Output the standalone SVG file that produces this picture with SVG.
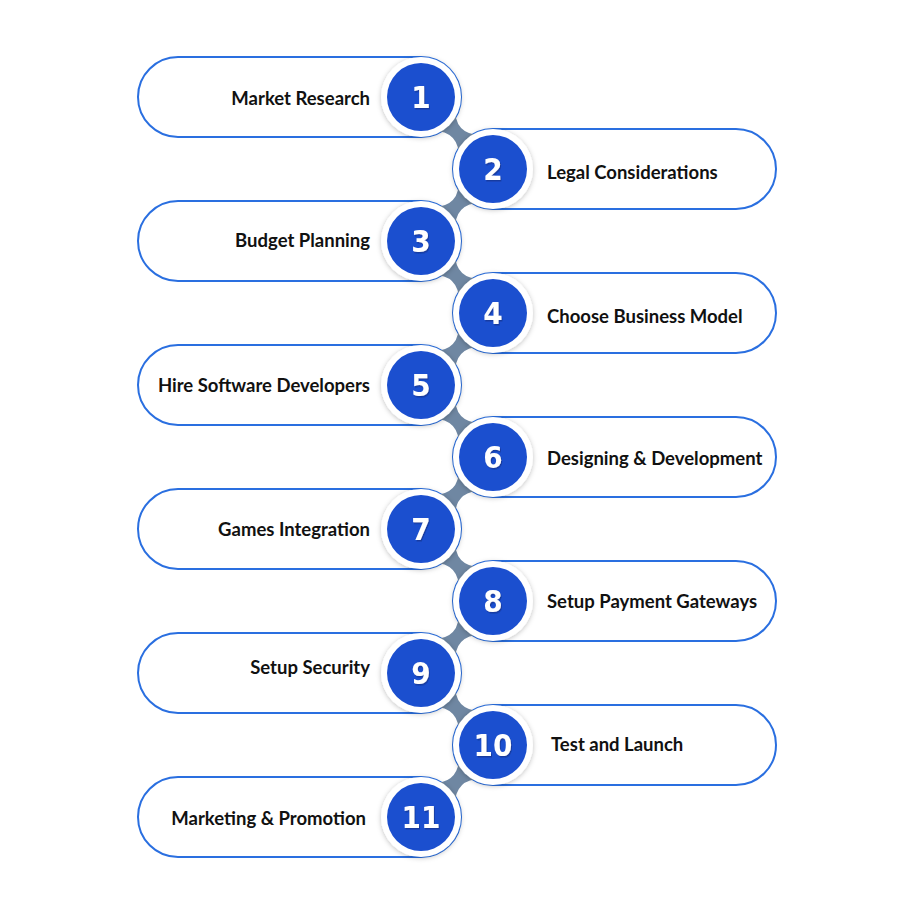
<svg xmlns="http://www.w3.org/2000/svg" width="914" height="921" viewBox="0 0 914 921">
<style>
.pill{fill:#fff;stroke:#2a6fe0;stroke-width:2}
.ring{fill:#fff}
.dot{fill:#1b4fcf}
.num{font-family:"DejaVu Sans Condensed","DejaVu Sans",sans-serif;font-stretch:condensed;font-weight:bold;font-size:31px;fill:#fff;text-anchor:middle}
.lbl{font-family:Lato,"Liberation Sans",sans-serif;font-weight:bold;font-size:18.5px;fill:#111}
.l{text-anchor:end}
.r{text-anchor:start}
.con{fill:#6f87a2}
</style>
<defs>
<filter id="sh" x="-30%" y="-30%" width="160%" height="160%">
<feDropShadow dx="0" dy="1" stdDeviation="2.5" flood-color="#000" flood-opacity="0.25"/>
</filter>
<filter id="ts" x="-20%" y="-20%" width="140%" height="140%">
<feDropShadow dx="1" dy="1.5" stdDeviation="0.6" flood-color="#0a2a80" flood-opacity="0.6"/>
</filter>
<path id="bridge" d="M30,-18 Q50.9,5 71.8,-18 L71.8,18 Q50.9,-5 30,18 Z"/>
</defs>
<rect width="914" height="921" fill="#fff"/>
<g id="pills">
<rect class="pill" x="138" y="57" width="323" height="80" rx="40"/>
<rect class="pill" x="453" y="129" width="323" height="80" rx="40"/>
<rect class="pill" x="138" y="201" width="323" height="80" rx="40"/>
<rect class="pill" x="453" y="273" width="323" height="80" rx="40"/>
<rect class="pill" x="138" y="345" width="323" height="80" rx="40"/>
<rect class="pill" x="453" y="417" width="323" height="80" rx="40"/>
<rect class="pill" x="138" y="489" width="323" height="80" rx="40"/>
<rect class="pill" x="453" y="561" width="323" height="80" rx="40"/>
<rect class="pill" x="138" y="633" width="323" height="80" rx="40"/>
<rect class="pill" x="453" y="705" width="323" height="80" rx="40"/>
<rect class="pill" x="138" y="777" width="323" height="80" rx="40"/>
</g>
<g id="connectors">
<use href="#bridge" class="con" transform="translate(421,97) rotate(45)"/>
<use href="#bridge" class="con" transform="translate(493,169) rotate(135)"/>
<use href="#bridge" class="con" transform="translate(421,241) rotate(45)"/>
<use href="#bridge" class="con" transform="translate(493,313) rotate(135)"/>
<use href="#bridge" class="con" transform="translate(421,385) rotate(45)"/>
<use href="#bridge" class="con" transform="translate(493,457) rotate(135)"/>
<use href="#bridge" class="con" transform="translate(421,529) rotate(45)"/>
<use href="#bridge" class="con" transform="translate(493,601) rotate(135)"/>
<use href="#bridge" class="con" transform="translate(421,673) rotate(45)"/>
<use href="#bridge" class="con" transform="translate(493,745) rotate(135)"/>
</g>
<g id="step1"><circle class="ring" cx="421" cy="97" r="40" filter="url(#sh)"/><circle class="dot" cx="421" cy="97" r="34"/><text class="num" x="421" y="108" filter="url(#ts)">1</text><text class="lbl l" x="370" y="105">Market Research</text></g>
<g id="step2"><circle class="ring" cx="493" cy="169" r="40" filter="url(#sh)"/><circle class="dot" cx="493" cy="169" r="34"/><text class="num" x="493" y="180" filter="url(#ts)">2</text><text class="lbl r" x="547" y="179">Legal Considerations</text></g>
<g id="step3"><circle class="ring" cx="421" cy="241" r="40" filter="url(#sh)"/><circle class="dot" cx="421" cy="241" r="34"/><text class="num" x="421" y="252" filter="url(#ts)">3</text><text class="lbl l" x="370" y="247">Budget Planning</text></g>
<g id="step4"><circle class="ring" cx="493" cy="313" r="40" filter="url(#sh)"/><circle class="dot" cx="493" cy="313" r="34"/><text class="num" x="493" y="324" filter="url(#ts)">4</text><text class="lbl r" x="547" y="323">Choose Business Model</text></g>
<g id="step5"><circle class="ring" cx="421" cy="385" r="40" filter="url(#sh)"/><circle class="dot" cx="421" cy="385" r="34"/><text class="num" x="421" y="396" filter="url(#ts)">5</text><text class="lbl l" x="370" y="392">Hire Software Developers</text></g>
<g id="step6"><circle class="ring" cx="493" cy="457" r="40" filter="url(#sh)"/><circle class="dot" cx="493" cy="457" r="34"/><text class="num" x="493" y="468" filter="url(#ts)">6</text><text class="lbl r" x="547" y="465">Designing &amp; Development</text></g>
<g id="step7"><circle class="ring" cx="421" cy="529" r="40" filter="url(#sh)"/><circle class="dot" cx="421" cy="529" r="34"/><text class="num" x="421" y="540" filter="url(#ts)">7</text><text class="lbl l" x="370" y="536">Games Integration</text></g>
<g id="step8"><circle class="ring" cx="493" cy="601" r="40" filter="url(#sh)"/><circle class="dot" cx="493" cy="601" r="34"/><text class="num" x="493" y="612" filter="url(#ts)">8</text><text class="lbl r" x="547" y="608">Setup Payment Gateways</text></g>
<g id="step9"><circle class="ring" cx="421" cy="673" r="40" filter="url(#sh)"/><circle class="dot" cx="421" cy="673" r="34"/><text class="num" x="421" y="684" filter="url(#ts)">9</text><text class="lbl l" x="370" y="674">Setup Security</text></g>
<g id="step10"><circle class="ring" cx="493" cy="745" r="40" filter="url(#sh)"/><circle class="dot" cx="493" cy="745" r="34"/><text class="num" x="493" y="756" filter="url(#ts)">10</text><text class="lbl r" x="551" y="751">Test and Launch</text></g>
<g id="step11"><circle class="ring" cx="421" cy="817" r="40" filter="url(#sh)"/><circle class="dot" cx="421" cy="817" r="34"/><text class="num" x="421" y="828" filter="url(#ts)">11</text><text class="lbl l" x="366" y="825">Marketing &amp; Promotion</text></g>
</svg>
